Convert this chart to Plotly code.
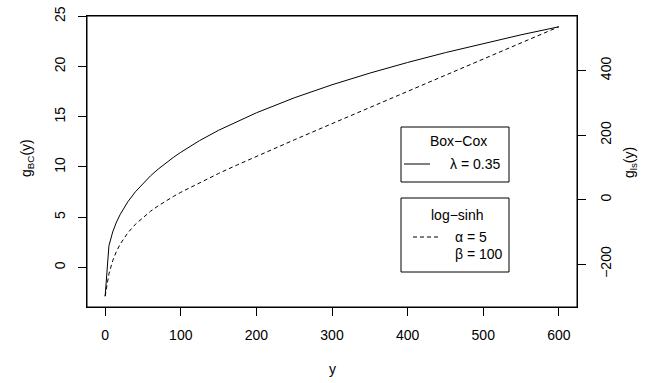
import plotly.graph_objects as go

# ---- data ----
y_vals = [0, 5, 10, 15, 20, 25, 30, 40, 50, 60, 70, 75, 80, 90, 100, 125, 150, 175,
          200, 250, 300, 350, 400, 450, 500, 550, 600]
g_bc = [-2.86, 2.16, 3.54, 4.52, 5.29, 5.96, 6.54, 7.53, 8.38, 9.12, 9.78, 10.09, 10.39,
        10.94, 11.46, 12.63, 13.65, 14.56, 15.39, 16.88, 18.18, 19.34, 20.40, 21.38,
        22.29, 23.15, 23.95]
g_ls = [-299.5, -230.1, -189.3, -160.3, -137.6, -118.9, -102.9, -76.5, -54.8, -36.1,
        -19.6, -11.9, -4.5, 9.4, 22.6, 53.0, 81.1, 107.9, 134.0, 185.1, 235.4, 285.6,
        335.7, 385.7, 435.7, 485.7, 535.7]

x_ticks = [0, 100, 200, 300, 400, 500, 600]
y1_ticks = [0, 5, 10, 15, 20, 25]
y2_ticks = [-200, 0, 200, 400]
y2_labels = ["\u2212200", "0", "200", "400"]

# ---- layout constants ----
W, H = 646, 383
L, R, T, B = 87, 69, 16, 76
PW, PH = W - L - R, H - T - B
FONT = "Liberation Sans, Arial, Helvetica, sans-serif"
FS = 14


def pad(lo, hi, f=0.04):
    d = (hi - lo) * f
    return [lo - d, hi + d]


def px(xp):
    return (xp - L) / PW


def py(yp):
    return (T + PH - yp) / PH


fig = go.Figure()
fig.add_trace(go.Scatter(x=y_vals, y=g_bc, mode="lines",
                         line=dict(color="black", width=1), yaxis="y", showlegend=False))
fig.add_trace(go.Scatter(x=y_vals, y=g_ls, mode="lines",
                         line=dict(color="black", width=1, dash="4px,3px"), yaxis="y2",
                         showlegend=False))

axis_common = dict(showgrid=False, zeroline=False, showline=True, linecolor="black",
                   linewidth=1, ticks="outside", ticklen=8, tickcolor="black",
                   automargin=False,
                   tickfont=dict(family=FONT, size=FS, color="black"))

fig.update_layout(
    width=W, height=H,
    margin=dict(l=L, r=R, t=T, b=B, autoexpand=False),
    paper_bgcolor="white", plot_bgcolor="white",
    font=dict(family=FONT, size=FS, color="black"),
    xaxis=dict(range=pad(min(y_vals), max(y_vals)), tickvals=x_ticks, mirror=True,
               ticklabelstandoff=7, **axis_common),
    yaxis=dict(range=pad(min(g_bc), max(g_bc)), tickvals=y1_ticks, tickangle=-90,
               mirror=False, ticklabelstandoff=7, **axis_common),
    yaxis2=dict(range=pad(min(g_ls), max(g_ls)), tickvals=y2_ticks, ticktext=y2_labels,
                tickangle=-90, overlaying="y", side="right", ticklabelstandoff=8,
                **axis_common),
)

# full box around plot
fig.add_shape(type="rect", xref="paper", yref="paper", x0=0, x1=1, y0=0, y1=1,
              line=dict(color="black", width=1))

# axis titles
fig.add_annotation(text="y", xref="paper", yref="paper", x=0.5, y=py(369),
                   showarrow=False, font=dict(size=FS), xanchor="center", yanchor="middle")
fig.add_annotation(text="g<sub>BC</sub>(y)", xref="paper", yref="paper", x=px(27),
                   y=py(158), showarrow=False, textangle=-90, font=dict(size=FS),
                   xanchor="center", yanchor="middle")
fig.add_annotation(text="g<sub>ls</sub>(y)", xref="paper", yref="paper", x=px(630),
                   y=py(163), showarrow=False, textangle=-90, font=dict(size=FS),
                   xanchor="center", yanchor="middle")

# legend boxes
for (x0, x1, y0, y1) in [(401, 509, 127, 182), (401, 509, 198, 272)]:
    fig.add_shape(type="rect", xref="paper", yref="paper", x0=px(x0), x1=px(x1),
                  y0=py(y1), y1=py(y0), line=dict(color="black", width=1),
                  fillcolor="white")
fig.add_shape(type="line", xref="paper", yref="paper", x0=px(404), x1=px(430),
              y0=py(164), y1=py(164), line=dict(color="black", width=1))
fig.add_shape(type="line", xref="paper", yref="paper", x0=px(413), x1=px(439),
              y0=py(237), y1=py(237), line=dict(color="black", width=1, dash="4px,3px"))

legend_texts = [
    ("Box\u2212Cox", 458, 141, "center"),
    ("\u03bb = 0.35", 448, 164, "left"),
    ("log\u2212sinh", 457, 215, "center"),
    ("\u03b1 = 5", 453, 237, "left"),
    ("\u03b2 = 100", 453, 254, "left"),
]
for txt, xx, yy, anc in legend_texts:
    fig.add_annotation(text=txt, xref="paper", yref="paper", x=px(xx), y=py(yy),
                       showarrow=False, font=dict(size=FS), xanchor=anc, yanchor="middle")

fig.write_html("out.html", config={"displayModeBar": False},
               post_script="document.body.style.margin='0';document.body.style.padding='0';")
